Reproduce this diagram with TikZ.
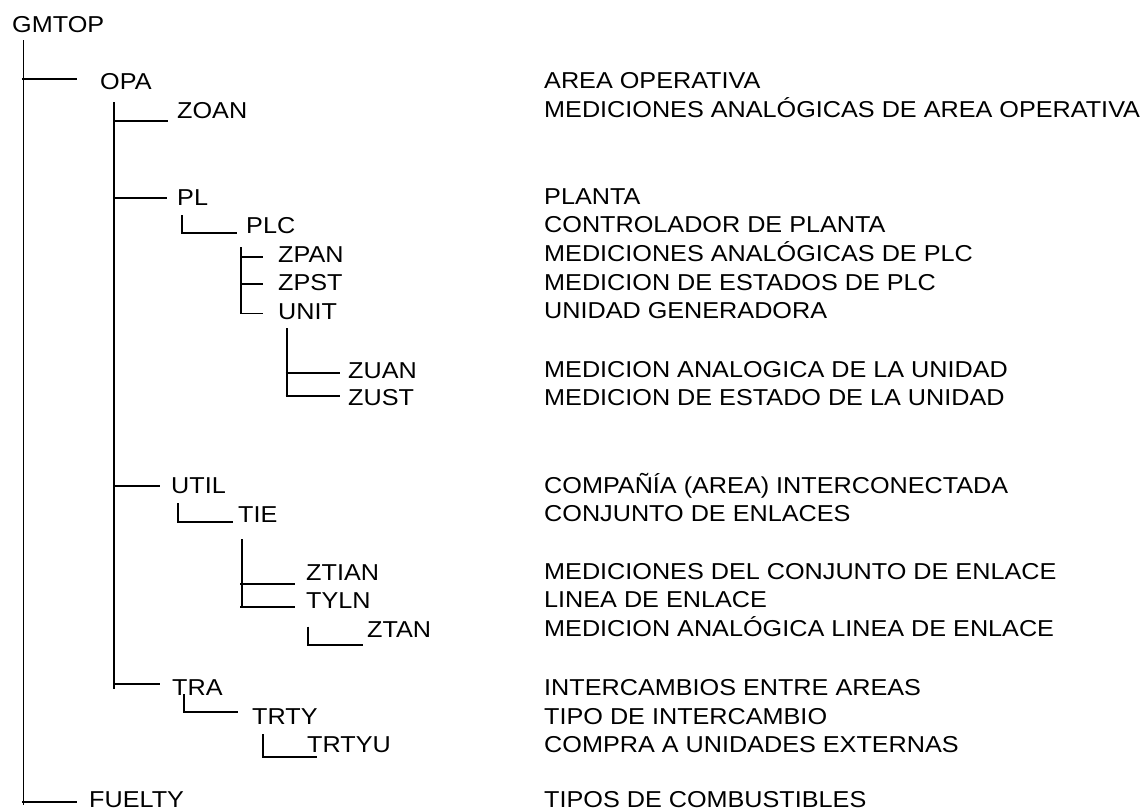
\documentclass[tikz,border=0pt]{standalone}
\usepackage{fontspec}
\setmainfont{Liberation Sans}[FakeStretch=1.096]
\begin{document}
\begin{tikzpicture}[x=1pt,y=-1pt,
  lbl/.style={anchor=base west,inner sep=0pt,text depth=0pt,font=\fontsize{23}{28}\selectfont},
  br/.style={line width=1.8pt,black}]
\useasboundingbox (0,0) rectangle (1146,811);
% code labels
\node[lbl] (gmtop) at (12,32) {GMTOP};
\node[lbl] (opa) at (100,89) {OPA};
\node[lbl] (zoan) at (177,118) {ZOAN};
\node[lbl] (pl) at (177,205) {PL};
\node[lbl] (plc) at (246,233) {PLC};
\node[lbl] (zpan) at (278,262) {ZPAN};
\node[lbl] (zpst) at (278,290) {ZPST};
\node[lbl] (unit) at (278,319) {UNIT};
\node[lbl] (zuan) at (348,378) {ZUAN};
\node[lbl] (zust) at (348,405) {ZUST};
\node[lbl] (util) at (171,493) {UTIL};
\node[lbl] (tie) at (238,522) {TIE};
\node[lbl] (ztian) at (306,580) {ZTIAN};
\node[lbl] (tyln) at (306,608) {TYLN};
\node[lbl] (ztan) at (367,637) {ZTAN};
\node[lbl] (tra) at (172,695) {TRA};
\node[lbl] (trty) at (252,724) {TRTY};
\node[lbl] (trtyu) at (307,752.5) {TRTYU};
\node[lbl] (fuelty) at (89,807.5) {FUELTY};
% descriptions
\node[lbl] (d1) at (544,88.5) {AREA OPERATIVA};
\node[lbl] (d2) at (544,117.5) {MEDICIONES ANALÓGICAS DE AREA OPERATIVA};
\node[lbl] (d3) at (544,204) {PLANTA};
\node[lbl] (d4) at (544,232.5) {CONTROLADOR DE PLANTA};
\node[lbl] (d5) at (544,261) {MEDICIONES ANALÓGICAS DE PLC};
\node[lbl] (d6) at (544,290) {MEDICION DE ESTADOS DE PLC};
\node[lbl] (d7) at (544,318.5) {UNIDAD GENERADORA};
\node[lbl] (d8) at (544,377.5) {MEDICION ANALOGICA DE LA UNIDAD};
\node[lbl] (d9) at (544,405) {MEDICION DE ESTADO DE LA UNIDAD};
\node[lbl] (d10) at (544,493.5) {COMPAÑÍA (AREA) INTERCONECTADA};
\node[lbl] (d11) at (544,521.5) {CONJUNTO DE ENLACES};
\node[lbl] (d12) at (544,579.5) {MEDICIONES DEL CONJUNTO DE ENLACE};
\node[lbl] (d13) at (544,607.5) {LINEA DE ENLACE};
\node[lbl] (d14) at (544,636.5) {MEDICION ANALÓGICA LINEA DE ENLACE};
\node[lbl] (d15) at (544,695) {INTERCAMBIOS ENTRE AREAS};
\node[lbl] (d16) at (544,724) {TIPO DE INTERCAMBIO};
\node[lbl] (d17) at (544,752.5) {COMPRA A UNIDADES EXTERNAS};
\node[lbl] (d18) at (544,807.5) {TIPOS DE COMBUSTIBLES};
% connector coordinates
\coordinate (t0top) at (23.5,40);
\coordinate (t0bot) at (23.5,805);
\coordinate (t1top) at (114.3,102);
\coordinate (t1bot) at (114.3,689);
\coordinate (t2top) at (240.7,247);
\coordinate (t2bot) at (240.7,313.5);
\coordinate (t3top) at (287.3,328);
\coordinate (t3bot) at (287.3,396);
\coordinate (t4top) at (241.7,539);
\coordinate (t4bot) at (241.7,607.5);
% level 0 trunk
\draw[br] (t0top) -- (t0bot);
\draw[br] (22,79.3) -- (77,79.3);
\draw[br] (22,801.7) -- (77,801.7);
% level 1 trunk
\draw[br] (t1top) -- (t1bot);
\draw[br] (114.3,120.7) -- (168,120.7);
\draw[br] (113,198.3) -- (167,198.3);
\draw[br] (114.3,486) -- (160,486);
\draw[br] (114.3,684) -- (160,684);
% PL -> PLC
\draw[br] (182,215) -- (182,233) -- (237,233);
% PLC children
\draw[br] (t2top) -- (t2bot);
\draw[br] (240.7,257) -- (263,257);
\draw[br] (240.7,284) -- (263,284);
\draw[br] (240.7,313.5) -- (263,313.5);
% UNIT children
\draw[br] (t3top) -- (t3bot);
\draw[br] (285.7,372.7) -- (340,372.7);
\draw[br] (285.7,395.7) -- (340,395.7);
% UTIL -> TIE
\draw[br] (178,503) -- (178,521.7) -- (233,521.7);
% TIE children
\draw[br] (t4top) -- (t4bot);
\draw[br] (240,584.3) -- (295,584.3);
\draw[br] (240,607.3) -- (295,607.3);
% TYLN -> ZTAN
\draw[br] (308.3,626.7) -- (308.3,645) -- (362.7,645);
% TRA -> TRTY
\draw[br] (183.7,694) -- (183.7,711.7) -- (238.3,711.7);
% TRTY -> TRTYU
\draw[br] (263.3,734) -- (263.3,756.7) -- (317.3,756.7);
\end{tikzpicture}
\end{document}
